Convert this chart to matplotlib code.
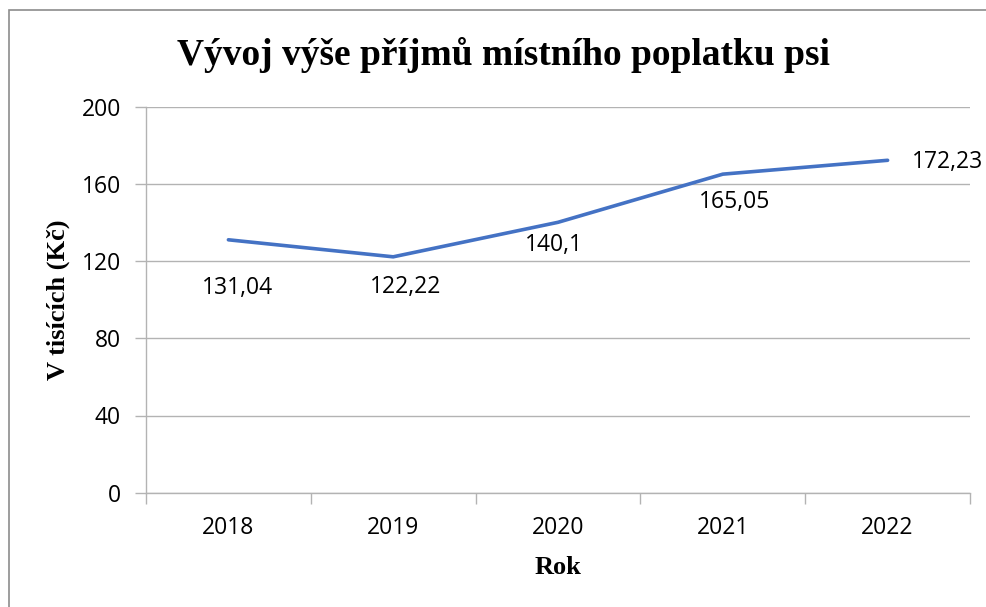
import matplotlib
matplotlib.use("Agg")
import matplotlib.pyplot as plt
from matplotlib.patches import Rectangle

years = ["2018", "2019", "2020", "2021", "2022"]
income = [131.04, 122.22, 140.1, 165.05, 172.23]
value_labels = ["131,04", "122,22", "140,1", "165,05", "172,23"]
# label offsets (pixels) relative to each point, as placed in the original
label_dx = [9, 12, -4, 12, 60]
label_dy = [-48, -30, -23, -28, -2]

LINE = "#4472C4"
GRID = "#B3B3B3"
SANS = "Open Sans"
SERIF = "Liberation Serif"

fig = plt.figure(figsize=(9.86, 6.07), dpi=100)
ax = fig.add_axes([146 / 986, 1 - 492.7 / 607, (970 - 146) / 986, (492.7 - 106.7) / 607])

x = range(len(years))
ax.plot(x, income, color=LINE, linewidth=2.6, solid_capstyle="round", zorder=3)

for xi, v, lab, dx, dy in zip(x, income, value_labels, label_dx, label_dy):
    ax.annotate(lab, (xi, v), xytext=(dx, dy), textcoords="offset pixels",
                ha="center", va="center", fontsize=16.5, family=SANS, color="black")

ax.set_xlim(-0.5, len(years) - 0.5)
ax.set_ylim(0, 200)
ax.set_yticks(range(0, 201, 40))
ax.set_xticks([i - 0.5 for i in range(len(years) + 1)], minor=False)
ax.set_xticklabels([])
ax.set_xticks(list(x), minor=True)
ax.set_xticklabels(years, minor=True)

ax.tick_params(axis="x", which="major", length=8, width=1, color=GRID, direction="out")
ax.tick_params(axis="x", which="minor", length=0, pad=17, labelsize=16.5)
ax.tick_params(axis="y", length=8, width=1, color=GRID, pad=10, labelsize=16.5)
for t in ax.get_xticklabels(minor=True) + ax.get_yticklabels():
    t.set_family(SANS)

ax.yaxis.grid(True, color=GRID, linewidth=1)
ax.set_axisbelow(True)
for s in ["top", "right"]:
    ax.spines[s].set_visible(False)
for s in ["left", "bottom"]:
    ax.spines[s].set_color(GRID)
    ax.spines[s].set_linewidth(1)

fig.text(503 / 986, 1 - 55 / 607, "Vývoj výše příjmů místního poplatku psi",
         ha="center", va="center", fontsize=27, fontweight="bold", family=SERIF)
fig.text(558 / 986, 1 - 567 / 607, "Rok", ha="center", va="center",
         fontsize=19, fontweight="bold", family=SERIF)
fig.text(58 / 986, 1 - 300 / 607, "V tisících (Kč)", ha="center", va="center",
         rotation=90, fontsize=19, fontweight="bold", family=SERIF)

fig.patches.append(Rectangle((9 / 986, -0.1), 1.2, 1 - 10 / 607 + 0.1,
                             transform=fig.transFigure, fill=False,
                             edgecolor="#8C8C8C", linewidth=1.2))

fig.savefig("out.png", dpi=100)
